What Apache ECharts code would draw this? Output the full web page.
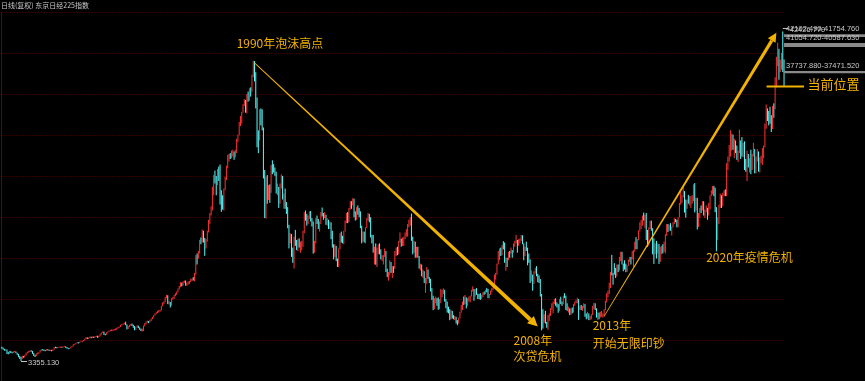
<!DOCTYPE html>
<html><head><meta charset="utf-8">
<script src="https://cdn.jsdelivr.net/npm/echarts@6/dist/echarts.min.js"></script>
<style>html,body{margin:0;padding:0;background:#000;}#c{width:865px;height:381px;}</style>
</head><body><div id="c"></div>
<script>
// Monthly Nikkei 225 candles, Jul 1973 – Aug 2024
const startYear = 1973, startMonth = 7;
const firstOpen = 4980;
const closes = [
/*1973*/ 4900,4780,4640,4690,4400,4307,
/*1974*/ 4450,4400,4330,4450,4480,4320,4150,3860,3800,3650,3900,3817,
/*1975*/ 4050,4300,4400,4450,4550,4520,4250,4050,3950,4200,4270,4359,
/*1976*/ 4600,4700,4680,4620,4600,4700,4650,4600,4650,4600,4700,4991,
/*1977*/ 4950,4920,4960,4990,5010,4980,5020,5060,5000,4900,4820,4866,
/*1978*/ 5000,5100,5300,5350,5450,5550,5500,5600,5650,5700,5800,6002,
/*1979*/ 6150,6000,6100,6200,6100,6200,6150,6250,6300,6200,6300,6569,
/*1980*/ 6700,6800,6600,6500,6700,6800,6900,7000,7000,7000,7100,7116,
/*1981*/ 7250,7350,7400,7600,7700,7750,7800,7650,7200,7400,7600,7682,
/*1982*/ 7600,7450,7100,7300,7500,7300,7150,7000,7100,7500,7800,8017,
/*1983*/ 8050,8000,8150,8350,8550,8750,8950,9100,9200,9350,9400,9894,
/*1984*/ 10200,10400,10900,11050,10250,10300,10000,10700,10800,11150,11300,11543,
/*1985*/ 11900,12200,12600,12400,12700,12850,12500,12500,12700,12800,12950,13113,
/*1986*/ 13000,13700,15860,15800,16200,17650,17500,18800,17850,16900,17600,18701,
/*1987*/ 20000,20800,21570,23300,25000,24900,24490,26030,26010,22770,22690,21564,
/*1988*/ 23720,25010,26260,27600,27800,27770,27900,27970,27920,28190,29580,30159,
/*1989*/ 31580,31990,32840,33710,34270,32950,34950,34430,35640,35550,37270,38916,
/*1990*/ 37190,34590,29980,29590,33130,31940,31040,25980,20980,25190,22450,23849,
/*1991*/ 23290,26410,26290,26110,25790,23290,23900,22340,23920,25220,22690,22984,
/*1992*/ 22020,21340,19350,17390,18350,15950,15910,18060,17400,16770,17680,16925,
/*1993*/ 17020,17100,18590,20920,20550,19590,20380,21030,20110,19700,16410,17417,
/*1994*/ 20230,20000,19110,19730,20970,20640,20450,20630,19560,19990,19080,19723,
/*1995*/ 18650,17050,16140,16810,15440,14520,16680,18120,17910,17660,18740,19868,
/*1996*/ 20810,20130,21410,22040,21960,22530,20690,20170,21560,21040,21020,19361,
/*1997*/ 18330,18560,18000,19150,20070,20610,20330,18230,17890,16460,16640,15259,
/*1998*/ 16630,16830,16530,15640,15670,15830,16380,14110,13410,13560,14880,13842,
/*1999*/ 14500,14370,15840,16700,16110,17530,17860,17440,17610,17940,18560,18934,
/*2000*/ 19540,19960,20340,17970,16330,17410,15730,16860,15750,14540,14650,13786,
/*2001*/ 13840,12880,13000,13930,13260,12970,11860,10710,9770,10370,10700,10543,
/*2002*/ 10000,10590,11020,11490,11760,10620,9880,9620,9380,8640,9220,8579,
/*2003*/ 8340,8360,7970,7830,8420,9080,9560,10340,10220,10560,10100,10677,
/*2004*/ 10780,11040,11720,11760,11240,11860,11330,11080,10820,10770,11100,11489,
/*2005*/ 11390,11740,11670,11010,11280,11580,11900,12410,13570,13610,14870,16111,
/*2006*/ 16650,16210,17060,16910,15470,15510,15460,16140,16130,16400,16270,17226,
/*2007*/ 17380,17600,17290,17400,17880,18140,17250,16570,16790,16740,15680,15308,
/*2008*/ 13590,13600,12530,13850,14340,13480,13380,13070,11260,8580,8510,8860,
/*2009*/ 7990,7570,8110,8830,9520,9960,10360,10490,10130,10030,9350,10546,
/*2010*/ 10200,10130,11090,11060,9770,9380,9540,8820,9370,9200,9940,10229,
/*2011*/ 10240,10620,9760,9850,9690,9820,9830,8950,8700,8990,8430,8455,
/*2012*/ 8800,9720,10080,9520,8540,9010,8700,8840,8870,8930,9450,10395,
/*2013*/ 11140,11560,12400,13860,13770,13680,13670,13390,14460,14330,15660,16291,
/*2014*/ 14910,14840,14830,14300,14630,15160,15620,15420,16170,16410,17460,17451,
/*2015*/ 17670,18800,19210,19520,20560,20240,20590,18890,17390,19080,19750,19034,
/*2016*/ 17520,16030,16760,16670,17230,15580,16570,16890,16450,17430,18310,19114,
/*2017*/ 19040,19120,18910,19200,19650,20030,19930,19650,20360,22010,22720,22765,
/*2018*/ 23100,22070,21450,22470,22200,22300,22550,22870,24120,21920,22350,20015,
/*2019*/ 20770,21390,21210,22260,20600,21280,21520,20700,21760,22930,23290,23657,
/*2020*/ 23200,21140,18920,20190,21880,22290,21710,23140,23190,22980,26430,27444,
/*2021*/ 27660,28970,29180,28810,28860,28790,27280,28090,29450,28890,27820,28792,
/*2022*/ 27000,26530,27820,26850,27280,26390,27800,28090,25940,27590,27970,26095,
/*2023*/ 27330,27450,28040,28860,30890,33190,32760,32620,31860,30860,33490,33464,
/*2024*/ 36290,39170,40370,38410,38490,39580,39100,35909.7
];
const highs = [
/*1973*/ 5050,4950,4800,4800,4720,4450,
/*1974*/ 4550,4560,4450,4500,4560,4500,4350,4200,3950,3850,4000,3950,
/*1975*/ 4100,4350,4450,4550,4620,4630,4550,4300,4100,4250,4350,4400,
/*1976*/ 4650,4750,4760,4720,4680,4750,4760,4700,4700,4680,4750,5000,
/*1977*/ 5050,5000,5020,5050,5080,5050,5080,5120,5100,5020,4920,4900,
/*1978*/ 5050,5150,5350,5400,5500,5600,5580,5650,5700,5760,5850,6020,
/*1979*/ 6200,6150,6150,6250,6250,6250,6250,6300,6350,6350,6350,6600,
/*1980*/ 6720,6850,6850,6600,6750,6850,6950,7050,7100,7080,7150,7200,
/*1981*/ 7300,7400,7450,7650,7750,7800,7900,8020,7700,7500,7650,7750,
/*1982*/ 7800,7650,7500,7400,7600,7550,7350,7200,7200,7550,7850,8050,
/*1983*/ 8150,8100,8200,8400,8600,8800,9000,9150,9300,9400,9450,9900,
/*1984*/ 10300,10450,10950,11190,11150,10500,10350,10800,10950,11200,11400,11600,
/*1985*/ 11950,12250,12700,12650,12800,12900,12900,12650,12800,12850,13100,13150,
/*1986*/ 13300,13800,15900,16100,16400,17700,18000,18936,18800,17950,17800,18800,
/*1987*/ 20100,20900,21700,24000,25400,25929,25300,26120,26400,26646,23600,23000,
/*1988*/ 23800,25200,26500,27800,27900,28000,28300,28400,28200,28400,29700,30200,
/*1989*/ 31700,32400,32900,33800,34400,34300,35000,35300,35700,35800,37300,38957,
/*1990*/ 38712,37600,34400,30700,33200,33300,33200,31000,26000,25200,25400,24200,
/*1991*/ 24300,26600,27146,26700,26300,25800,24400,24000,24400,25500,25300,23200,
/*1992*/ 23800,22200,21600,19500,18500,18400,16800,18100,18900,17700,17800,17900,
/*1993*/ 17500,17600,18800,21000,21200,20800,20600,21100,21148,20300,19900,17600,
/*1994*/ 20300,20600,20200,19900,21000,21552,20900,21000,20700,20300,20100,19900,
/*1995*/ 19800,18800,17200,17200,17000,15500,16700,18500,18700,18200,18800,20000,
/*1996*/ 20900,21000,21500,22300,22300,22666,22600,21100,21600,21800,21500,21100,
/*1997*/ 19400,18700,18700,19200,20300,20900,20800,20400,18300,18300,16900,17300,
/*1998*/ 16800,17200,17300,16600,15900,15900,16700,16400,14300,13900,15300,15100,
/*1999*/ 14600,14600,16400,16800,16900,17600,18600,17800,18000,18100,18600,19000,
/*2000*/ 19600,20100,20400,20833,18100,17600,17500,16900,16900,15800,14900,14800,
/*2001*/ 14200,14000,13200,14500,14200,13300,13100,12000,11100,10800,11000,10800,
/*2002*/ 10900,10700,11900,11800,11979,11800,10700,10400,9800,9500,9400,9300,
/*2003*/ 8800,8700,8600,8200,8500,9200,10000,10400,11000,11200,10900,10800,
/*2004*/ 11000,11100,11800,12195,11900,11900,12000,11300,11300,11400,11200,11500,
/*2005*/ 11600,11800,12000,11900,11300,11700,12000,12500,13600,13800,14900,16400,
/*2006*/ 16700,16800,17100,17563,17400,15600,15600,16300,16400,16800,16500,17300,
/*2007*/ 17600,18300,17700,17800,17900,18300,18262,17300,16900,17500,16800,16100,
/*2008*/ 15400,14100,13600,14000,14400,14600,13700,13500,12800,11300,9500,8900,
/*2009*/ 9300,8000,8800,9000,9600,10200,10400,10700,10800,10300,10100,10700,
/*2010*/ 10980,10400,11100,11400,11100,10200,9800,9600,9600,9700,10100,10400,
/*2011*/ 10600,10860,10700,9900,10000,9900,10200,10100,9000,9200,9000,8700,
/*2012*/ 8900,9900,10255,10200,9600,9100,9100,9200,9300,9000,9500,10500,
/*2013*/ 11400,11700,12650,13900,15942,13800,14950,14400,14800,14800,15700,16320,
/*2014*/ 16300,14900,15300,14900,14700,15400,15700,15700,16400,16500,17500,18030,
/*2015*/ 17800,18850,19800,20100,20600,20953,20700,20900,18800,19200,20000,20000,
/*2016*/ 19100,17900,17300,17600,17300,17200,16900,17000,17200,17500,18400,19600,
/*2017*/ 19600,19500,19700,19300,19800,20300,20200,20100,20400,22100,23382,23000,
/*2018*/ 24129,23500,22500,22500,23050,22900,22900,23000,24300,24448,22700,22700,
/*2019*/ 20900,21500,21800,22300,22300,21300,21800,21400,22100,23000,23600,24100,
/*2020*/ 24115,23900,21600,20400,21900,23200,23000,23300,23600,23700,26800,27600,
/*2021*/ 28979,30714,30300,30200,29700,29500,28900,28300,30795,29500,29900,29200,
/*2022*/ 29400,27300,28300,27900,27400,28400,27900,29222,28500,27600,28500,28200,
/*2023*/ 27500,27700,28600,28900,31500,33772,33300,33000,33500,32500,33600,33900,
/*2024*/ 36984,39427,41088,40300,39100,39900,42426.77,39100
];
const lows = [
/*1973*/ 4800,4700,4580,4550,4180,4150,
/*1974*/ 4200,4300,4250,4300,4380,4280,4080,3800,3600,3355.13,3600,3750,
/*1975*/ 3780,4000,4250,4350,4400,4450,4200,3950,3830,3920,4150,4200,
/*1976*/ 4350,4550,4600,4550,4520,4580,4600,4550,4550,4500,4550,4700,
/*1977*/ 4880,4870,4900,4940,4950,4920,4960,5000,4920,4820,4750,4780,
/*1978*/ 4850,5000,5100,5280,5350,5450,5430,5500,5580,5600,5700,5780,
/*1979*/ 5950,5950,5980,6080,6050,6100,6080,6150,6200,6100,6150,6280,
/*1980*/ 6500,6680,6450,6400,6480,6700,6800,6880,6900,6900,6950,7000,
/*1981*/ 7050,7200,7300,7380,7600,7650,7700,7600,7100,7150,7380,7550,
/*1982*/ 7500,7300,7000,7050,7300,7250,7050,6900,6850,6900,7450,7700,
/*1983*/ 7900,7850,7950,8100,8300,8500,8750,8900,9050,9100,9200,9350,
/*1984*/ 9850,10100,10350,10800,10100,10050,9700,9900,10650,10700,11050,11200,
/*1985*/ 11500,11850,12100,12200,12300,12600,12300,12250,12400,12500,12700,12850,
/*1986*/ 12900,12800,13600,14800,15500,16100,17200,17400,17400,15820,16700,17500,
/*1987*/ 18600,19600,20600,21200,23000,24400,23000,24200,24700,21910,21036,21300,
/*1988*/ 21200,23600,24800,26200,27000,27300,27400,27600,27200,27500,28000,29300,
/*1989*/ 30100,31200,31500,32800,33600,32800,32700,34100,34200,34700,35300,37000,
/*1990*/ 36500,33300,28700,28002,29500,31300,30700,25000,20300,20221,22000,22600,
/*1991*/ 22100,23300,25500,25700,25300,23200,23000,21500,22000,23800,22500,21400,
/*1992*/ 21400,20800,19100,16700,17300,15700,15000,14309,17000,16500,16400,16800,
/*1993*/ 16200,16500,16900,18500,20000,19400,19700,20200,19900,19300,16078,16200,
/*1994*/ 17300,19600,19000,18700,19600,20500,20100,20300,19500,19400,19000,19000,
/*1995*/ 17800,16800,15400,15700,15200,14500,14485,16600,17400,17300,17200,18700,
/*1996*/ 19700,19700,19800,21300,21400,21800,20400,20000,20100,20700,20400,19100,
/*1997*/ 17300,17500,17400,17300,19100,20000,19800,18000,17300,16200,14800,14775,
/*1998*/ 14500,16000,16000,15400,15200,14800,15700,13900,13300,12880,13500,13800,
/*1999*/ 13200,13800,14300,15800,15900,16000,17400,16900,17000,17000,17800,18100,
/*2000*/ 18100,19200,19400,17600,16000,16200,15600,15600,15600,14300,14100,13400,
/*2001*/ 13200,12600,11433,12500,13100,12600,11600,10600,9382,9500,10200,9900,
/*2002*/ 9420,9500,10200,10900,11300,10400,9600,9100,9000,8197,8300,8400,
/*2003*/ 8300,8200,7800,7607,7800,8400,9200,9400,10000,10100,9600,9900,
/*2004*/ 10400,10300,11000,11600,10500,11000,11200,10700,10700,10600,10700,10900,
/*2005*/ 11200,11300,11500,10800,10800,11200,11500,11800,12400,13000,13600,14800,
/*2006*/ 15300,15800,15900,16600,15000,14045,14500,15300,15600,16100,15600,16200,
/*2007*/ 16900,17300,16200,17000,17300,17600,17200,15300,15800,16400,14700,15000,
/*2008*/ 12600,12800,11691,12500,13700,13400,12700,12600,11000,6994,7200,7900,
/*2009*/ 7800,7300,7054,8100,8700,9400,9000,10100,9900,9700,9080,9300,
/*2010*/ 10100,9900,10100,10800,9400,9300,9100,8800,8900,9000,9100,9900,
/*2011*/ 10200,10200,8227,9400,9400,9300,9600,8600,8300,8400,8200,8200,
/*2012*/ 8300,8800,9500,9400,8500,8238,8300,8500,8600,8500,8619,9400,
/*2013*/ 10300,10900,11300,12000,13500,12400,13600,13200,13600,13900,14100,15200,
/*2014*/ 14800,13995,14200,13885,13900,14700,15100,14800,15400,14529,16300,16600,
/*2015*/ 16600,17700,18700,19000,19400,20000,19100,17700,16900,17000,19000,18800,
/*2016*/ 16000,14865,16000,15500,16100,14864,15100,16000,16100,16300,16100,18200,
/*2017*/ 18650,18800,18800,18225,19200,19600,19800,19200,19200,20400,21900,22100,
/*2018*/ 22800,20950,20347,21400,22000,21800,21500,22000,22300,20971,21200,18949,
/*2019*/ 19240,20300,20900,21300,20600,20300,21000,20100,20600,21300,22900,23100,
/*2020*/ 22900,21000,16358,17700,19600,21500,21500,21700,22900,22900,22900,26000,
/*2021*/ 27000,27600,28300,28400,27400,28000,27200,26950,28000,27300,27600,27500,
/*2022*/ 26000,25800,24681,26300,25700,25500,26000,27600,25600,25600,27000,25800,
/*2023*/ 25700,26800,26600,27400,28700,31300,31800,31300,31500,30500,31000,32200,
/*2024*/ 33200,35800,38300,36700,37600,37900,37611,35880
];

// Gap zones shown at the right edge (upper, lower)
const gapUpper = [42102.49, 41054.72, 37737.88];
const gapLower = [41754.76, 40587.63, 37471.52];
const currentPrice = 35909.7;

// Annotations: [month, price, text]
const noteMonths = ['1988-11', '2006-12', '2006-12', '2012-02', '2012-02', '2019-07'];
const notePrices = [40966, 5831, 3945, 7540, 5477, 15676];
const noteTexts = ['1990年泡沫高点', '2008年', '次贷危机', '2013年', '开始无限印钞', '2020年疫情危机'];

// Arrows: from [month, price] to [month, price]
const arrowFrom = [['1990-01', 38700], ['2012-11', 8660]];
const arrowTo = [['2008-07', 7450], ['2024-02', 42262]];

const titleText = '日线(复权) 东京日经225指数';

// ---- build ----
const months = closes.map((_, i) => {
  const m = startMonth - 1 + i;
  return (startYear + Math.floor(m / 12)) + '-' + String(m % 12 + 1).padStart(2, '0');
});
const candles = closes.map((c, i) => {
  const o = i === 0 ? firstOpen : closes[i - 1];
  return [o, c, Math.min(lows[i], o, c), Math.max(highs[i], o, c)];
});
let minIdx = 0, maxIdx = 0;
lows.forEach((v, i) => { if (v < lows[minIdx]) minIdx = i; });
highs.forEach((v, i) => { if (v > highs[maxIdx]) maxIdx = i; });
const lastIdx = closes.length - 1;

const gold = '#f2b200';
const cjk = '"Noto Sans CJK SC", "Noto Sans", sans-serif';
const numFont = '"Liberation Sans", Arial, sans-serif';

const chart = echarts.init(document.getElementById('c'), null, { renderer: 'canvas' });
const plotTop = 12.3, rowH = 41.2;

function arrowEl(p0, p1, w0, w1, hl, hw, color) {
  const dx = p1[0] - p0[0], dy = p1[1] - p0[1], L = Math.hypot(dx, dy);
  const ux = dx / L, uy = dy / L, nx = -uy, ny = ux;
  const bx = p1[0] - ux * hl, by = p1[1] - uy * hl;
  const shaft = [[p0[0] + nx * w0 / 2, p0[1] + ny * w0 / 2], [bx + nx * w1 / 2, by + ny * w1 / 2],
                 [bx - nx * w1 / 2, by - ny * w1 / 2], [p0[0] - nx * w0 / 2, p0[1] - ny * w0 / 2]];
  const head = [[p1[0], p1[1]], [bx + nx * hw / 2, by + ny * hw / 2], [bx - nx * hw / 2, by - ny * hw / 2]];
  return { type: 'group', children: [
    { type: 'polygon', shape: { points: shaft }, style: { fill: color } },
    { type: 'polygon', shape: { points: head }, style: { fill: color } }
  ]};
}
const arrowStyles = [{ w0: 0.7, w1: 4.0, hl: 10, hw: 10 }, { w0: 0.6, w1: 3.3, hl: 9, hw: 9 }];

chart.setOption({
  animation: false,
  backgroundColor: '#000',
  title: { text: titleText, left: 1, top: 2, padding: 0,
    textStyle: { fontSize: 7, color: '#c8c8c8', fontWeight: 'normal', fontFamily: cjk } },
  grid: { left: 1.22, top: plotTop, width: 783.46, height: rowH * 9, containLabel: false },
  xAxis: { type: 'category', data: months, show: false, boundaryGap: true },
  yAxis: [
    { type: 'value', min: 986, max: 44696, show: false, splitLine: { show: false } },
    { type: 'value', min: 0, max: 9, interval: 1, position: 'left',
      axisLabel: { show: false }, axisTick: { show: false },
      axisLine: { show: true, lineStyle: { color: '#6e0000', width: 1 } },
      splitLine: { show: true, lineStyle: { color: '#3a0000', width: 1, type: [2, 1] } } }
  ],
  series: [
    { type: 'candlestick', data: candles, barWidth: 1, yAxisIndex: 0,
      itemStyle: { color: '#ff3232', color0: '#54fcfc', borderColor: '#ff3232', borderColor0: '#54fcfc', borderWidth: 1 } },
    // arrows
    { type: 'custom', yAxisIndex: 0, clip: false, silent: true,
      data: arrowFrom.map((f, i) => [months.indexOf(f[0]), f[1], months.indexOf(arrowTo[i][0]), arrowTo[i][1]]),
      renderItem: (params, api) => {
        const s = arrowStyles[params.dataIndex];
        const p0 = api.coord([api.value(0), api.value(1)]);
        const p1 = api.coord([api.value(2), api.value(3)]);
        return arrowEl(p0, p1, s.w0, s.w1, s.hl, s.hw, gold);
      } },
    // annotations
    { type: 'custom', yAxisIndex: 0, clip: false, silent: true,
      data: noteMonths.map((m, i) => [months.indexOf(m), notePrices[i]]),
      renderItem: (params, api) => {
        const p = api.coord([api.value(0), api.value(1)]);
        const x0 = api.coord([api.value(0) - 0.5, api.value(1)])[0];
        return { type: 'text', style: { text: noteTexts[params.dataIndex], x: x0, y: p[1],
          fill: gold, fontSize: 12, fontFamily: cjk, align: 'left', verticalAlign: 'middle' } };
      } },
    // gap zones
    { type: 'custom', yAxisIndex: 0, clip: false, silent: true,
      data: gapUpper.map((u, i) => [lastIdx, u, gapLower[i]]),
      renderItem: (params, api) => {
        const pu = api.coord([api.value(0), api.value(1)]);
        const pl = api.coord([api.value(0), api.value(2)]);
        const W = api.getWidth();
        const i = params.dataIndex;
        return { type: 'group', children: [
          { type: 'rect', shape: { x: pu[0], y: pu[1], width: W - pu[0], height: Math.max(2, pl[1] - pu[1]) },
            style: { fill: '#8a8a8a' } },
          { type: 'text', style: { text: gapUpper[i].toFixed(3) + '-' + gapLower[i].toFixed(3),
            x: pu[0] + 2, y: pu[1] - 1.5, fill: '#c8c8c8', fontSize: 7.5, fontFamily: numFont,
            align: 'left', verticalAlign: 'bottom' } }
        ]};
      } },
    // min / max labels
    { type: 'custom', yAxisIndex: 0, clip: false, silent: true,
      data: [[minIdx, lows[minIdx], 0], [maxIdx, highs[maxIdx], 1]],
      renderItem: (params, api) => {
        const p = api.coord([api.value(0), api.value(1)]);
        const isMax = api.value(2) === 1;
        const y = isMax ? p[1] - 3 : p[1] + 0.5;
        const val = isMax ? highs[maxIdx] : lows[minIdx];
        return { type: 'group', children: [
          { type: 'line', shape: { x1: p[0], y1: y, x2: p[0] + 6, y2: y }, style: { stroke: '#c8c8c8', lineWidth: 1 } },
          { type: 'text', style: { text: val.toFixed(3), x: p[0] + 7, y: y + 1, fill: '#c8c8c8', fontSize: 7.5,
            fontFamily: numFont, align: 'left', verticalAlign: 'middle' } }
        ]};
      } },
    // current position
    { type: 'custom', yAxisIndex: 0, clip: false, silent: true,
      data: [[lastIdx, currentPrice]],
      renderItem: (params, api) => {
        const p = api.coord([api.value(0), api.value(1)]);
        return { type: 'group', children: [
          { type: 'line', shape: { x1: p[0] - 17.5, y1: p[1], x2: p[0] + 20, y2: p[1] }, style: { stroke: gold, lineWidth: 2 } },
          { type: 'text', style: { text: '当前位置', x: p[0] + 23.5, y: p[1] - 2.5, fill: gold, fontSize: 13,
            fontFamily: cjk, align: 'left', verticalAlign: 'middle' } }
        ]};
      } }
  ]
});
</script></body></html>
